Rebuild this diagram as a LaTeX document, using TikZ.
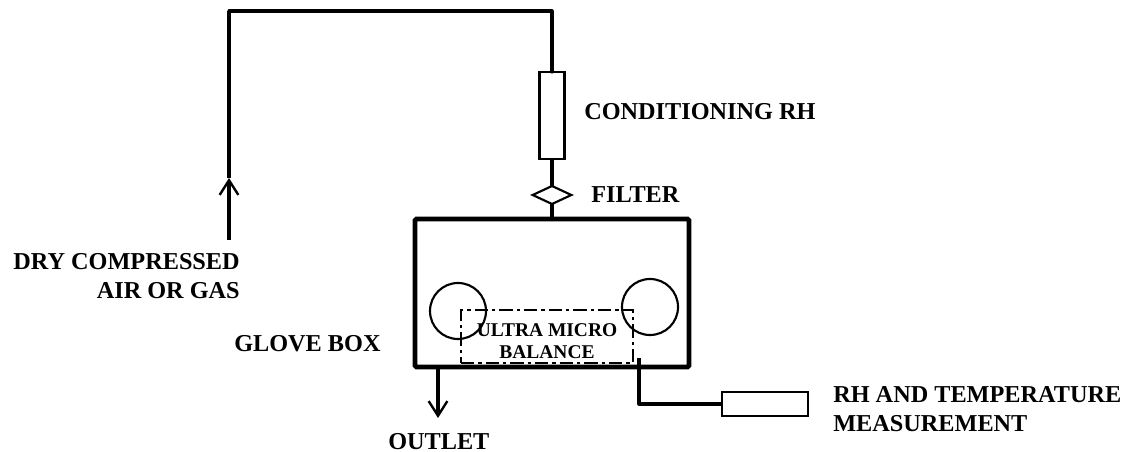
\documentclass[tikz,border=0pt]{standalone}
\usepackage{fontspec}
\setmainfont{Liberation Serif}
\usetikzlibrary{arrows.meta,shapes.geometric}
\tikzset{
  pipe/.style={line width=2.3pt},
  unit/.style={draw,line width=1.6pt,inner sep=0pt,outer sep=0pt},
  lbl/.style={font=\fontsize{18.2}{20}\selectfont\bfseries,inner sep=0pt,align=left},
  arrowhead/.style={-{Straight Barb[length=11pt,width=14pt,line width=1.8pt]}}
}
\begin{document}
\begin{tikzpicture}[x=0.75pt,y=0.75pt,yscale=-1,xscale=1]
\useasboundingbox (0,0) rectangle (1126,452);

%Corner points of the pipes
\coordinate (airin) at (229,240);
\coordinate (airmid) at (229,178);
\coordinate (airtop) at (229,11);
\coordinate (condtop) at (552,11);
\coordinate (outletin) at (438,367);
\coordinate (outletend) at (438,418);
\coordinate (rhstart) at (639,358);
\coordinate (rhcorner) at (639,404);

%Conditioning tube
\node (cond) [unit,minimum width=18.75pt,minimum height=65.25pt] at (552,115.5) {};
%Filter
\node (filter) [unit,diamond,aspect=2.2,minimum width=29pt,minimum height=13.5pt] at (552,195) {};
%Glove box
\node (box) [draw,line width=3.5pt,rounded corners=1pt,inner sep=0pt,minimum width=205.5pt,minimum height=111pt] at (552,293) {};
%Gloves
\node (gloveleft) [draw,circle,line width=1.6pt,inner sep=0pt,minimum size=42pt] at (458,311) {};
\node (gloveright) [draw,circle,line width=1.6pt,inner sep=0pt,minimum size=42pt] at (650,307) {};
%Balance
\node (balance) [draw,line width=1.6pt,dash pattern={on 10pt off 3pt on 2.5pt off 3pt},inner sep=0pt,minimum width=129pt,minimum height=39.75pt] at (547,336.5) {};
%Measurement unit
\node (meas) [unit,minimum width=64.5pt,minimum height=18pt] at (765,404) {};

%Straight Lines
\draw [pipe,line cap=round,line join=round] (airtop) -- (condtop) -- (cond.north);
\draw [pipe] (airtop) -- (airmid);
\draw [pipe,arrowhead] (airin) -- (airmid);
\draw [pipe] (cond.south) -- (filter.north);
\draw [pipe] (filter.south) -- (box.north);
\draw [pipe,arrowhead] (outletin) -- (outletend);
\draw [pipe,line join=round] (rhstart) -- (rhcorner) -- (meas.west);

% Text Node
\node (condlbl) [lbl,anchor=west] at (584,112) {CONDITIONING RH};
% Text Node
\node (filterlbl) [lbl,anchor=west] at (591,195) {FILTER};
% Text Node
\node (airlbl) [lbl,anchor=base east] at (240,269) {DRY COMPRESSED};
\node (airlbltwo) [lbl,anchor=base east] at (240,298) {AIR OR GAS};
% Text Node
\node (boxlbl) [lbl,anchor=base west] at (234,351) {GLOVE BOX};
% Text Node
\node (outletlbl) [lbl,anchor=base west] at (388,449) {OUTLET};
% Text Node
\node (measlbl) [lbl,anchor=base west] at (833,402) {RH AND TEMPERATURE};
\node (measlbltwo) [lbl,anchor=base west] at (833,431.5) {MEASUREMENT};
% Text Node
\node (ballbl) [font=\fontsize{14.6}{16.5}\selectfont\bfseries,inner sep=0pt,align=center] at (547,341) {ULTRA MICRO\\BALANCE};

\end{tikzpicture}
\end{document}
